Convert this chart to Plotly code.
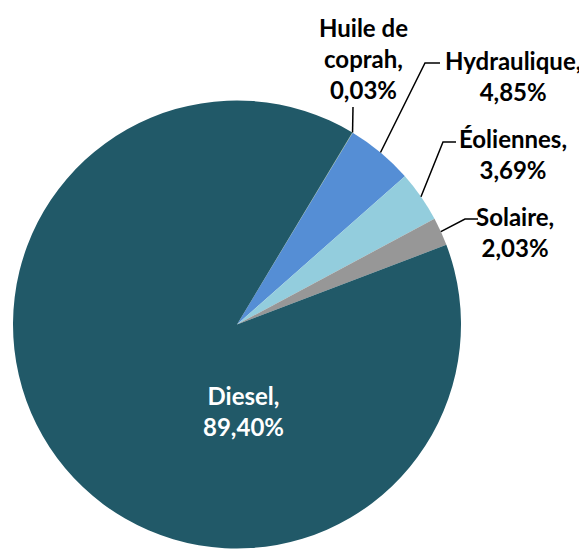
import math
import plotly.graph_objects as go

# ---- data ----
sources = ["Huile de coprah", "Hydraulique", "Éoliennes", "Solaire", "Diesel"]
display_names = ["Huile de<br>coprah", "Hydraulique", "Éoliennes", "Solaire", "Diesel"]
shares = [0.03, 4.85, 3.69, 2.03, 89.40]
colors = ["#9BBB59", "#558ED5", "#93CDDD", "#979797", "#215968"]

OFF = 8  # default page body margin
W, H = 587 - OFF, 549 - OFF
CX, CY, R = 237.0 - OFF, 324.5 - OFF, 224.0
START = 31.0  # degrees clockwise from 12 o'clock

# label placement (page pixel layout)
label_pos = {
    "Huile de coprah": (363, 59),
    "Hydraulique": (513, 76),
    "Éoliennes": (513, 154),
    "Solaire": (515, 232),
    "Diesel": (243, 411),
}
# leader-line waypoints (page pixel layout), from label side
leader_pts = {
    "Huile de coprah": [(353, 107)],
    "Hydraulique": [(440, 63), (425, 63)],
    "Éoliennes": [(456, 142), (443, 142)],
    "Solaire": [(478, 219), (465, 219)],
}


def fmt(v):
    return f"{v:.2f}".replace(".", ",") + "%"


def px2paper(x, y):
    return x / W, 1 - y / H


fig = go.Figure(
    go.Pie(
        labels=sources,
        values=shares,
        sort=False,
        direction="clockwise",
        rotation=START,
        marker=dict(colors=colors, line=dict(width=0)),
        textinfo="none",
        hoverinfo="label+percent",
        domain=dict(
            x=[(CX - R) / W, (CX + R) / W],
            y=[max(0, 1 - (CY + R) / H), 1 - (CY - R) / H],
        ),
        showlegend=False,
    )
)

total = sum(shares)
cum = 0.0
shapes = []
annotations = []
for name, disp, v in zip(sources, display_names, shares):
    mid = START + (cum + v / 2) / total * 360.0
    cum += v
    ex = CX + R * math.sin(math.radians(mid))
    ey = CY - R * math.cos(math.radians(mid))
    lx, ly = label_pos[name]
    ax, ay = px2paper(lx - OFF, ly - OFF)
    annotations.append(
        dict(
            x=ax, y=ay, xref="paper", yref="paper",
            text=f"{disp},<br>{fmt(v)}",
            showarrow=False, xanchor="center", yanchor="middle",
            align="center",
            font=dict(family="Lato", size=24, weight="bold",
                      color="white" if name == "Diesel" else "black"),
        )
    )
    if name in leader_pts:
        pts = [(x - OFF, y - OFF) for x, y in leader_pts[name]] + [(ex, ey)]
        path = ""
        for i, (x, y) in enumerate(pts):
            px_, py_ = px2paper(x, y)
            path += ("M" if i == 0 else " L") + f" {px_:.5f},{py_:.5f}"
        shapes.append(
            dict(type="path", path=path, xref="paper", yref="paper",
                 line=dict(color="black", width=1.5))
        )

fig.update_layout(
    width=W, height=H,
    margin=dict(l=0, r=0, t=0, b=0),
    paper_bgcolor="white",
    plot_bgcolor="white",
    annotations=annotations,
    shapes=shapes,
)

fig.write_html("out.html")
